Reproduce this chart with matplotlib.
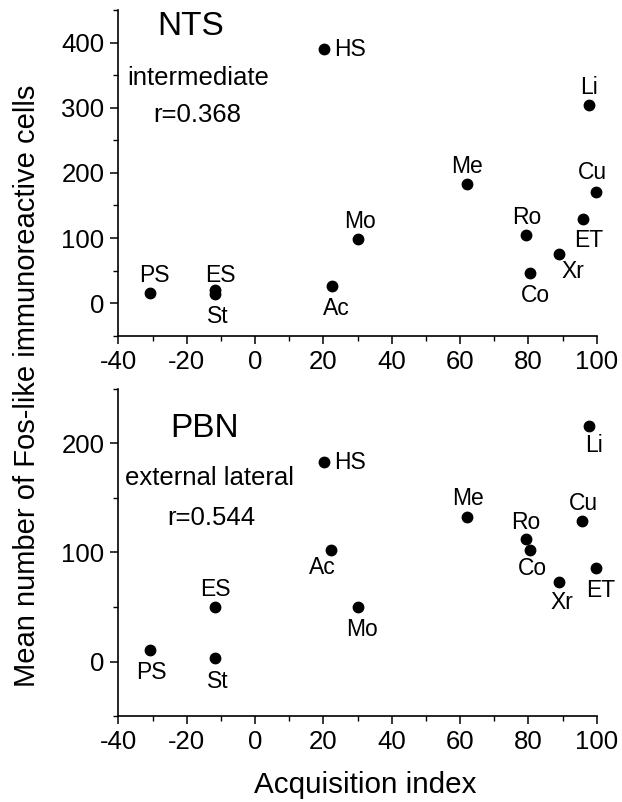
import matplotlib
matplotlib.use('Agg')
import matplotlib.pyplot as plt
from matplotlib.ticker import MultipleLocator

plt.rcParams['font.family'] = ['Liberation Sans', 'DejaVu Sans']
plt.rcParams['axes.unicode_minus'] = False

stimuli = ['PS', 'ES', 'St', 'HS', 'Ac', 'Mo', 'Me', 'Ro', 'Co', 'Xr', 'ET', 'Li', 'Cu']

# NTS (intermediate)
nts_x = [-30.8, -11.8, -11.8, 20.3, 22.5, 30.1, 62.0, 79.4, 80.6, 89.1, 96.0, 97.7, 99.8]
nts_y = [16, 20, 14, 390, 26, 99, 183, 104, 47, 76, 129, 304, 171]

# PBN (external lateral)
pbn_x = [-30.8, -11.8, -11.8, 20.2, 22.3, 30.1, 62.0, 79.3, 80.6, 89.1, 99.7, 97.7, 95.8]
pbn_y = [11, 50, 3, 183, 102, 50, 133, 112, 102, 73, 86, 216, 129]

x_ticks = [-40, -20, 0, 20, 40, 60, 80, 100]
nts_yticks = [0, 100, 200, 300, 400]
pbn_yticks = [0, 100, 200]

# label offsets in pixels (dx, dy)
nts_off = {'PS': (4, 17), 'ES': (6, 15), 'St': (3, -22), 'HS': (10, 0), 'Ac': (4, -22),
           'Mo': (2, 17), 'Me': (0, 17), 'Ro': (0, 18), 'Co': (5, -23), 'Xr': (13, -18),
           'ET': (6, -21), 'Li': (0, 18), 'Cu': (-4, 19)}
pbn_off = {'PS': (1, -23), 'ES': (1, 18), 'St': (3, -23), 'HS': (10, 0), 'Ac': (-9, -17),
           'Mo': (4, -22), 'Me': (1, 18), 'Ro': (0, 17), 'Co': (2, -18), 'Xr': (2, -21),
           'ET': (5, -23), 'Li': (5, -19), 'Cu': (1, 17)}

fig = plt.figure(figsize=(6.22, 8.02), dpi=100)
ax1 = fig.add_axes([0.1905, 0.5814, 0.7688, 0.4061])
ax2 = fig.add_axes([0.1905, 0.1072, 0.7688, 0.4078])


def style(ax, ylim, yticks):
    ax.set_xlim(-40, 100)
    ax.set_ylim(*ylim)
    ax.set_xticks(x_ticks)
    ax.set_yticks(yticks)
    ax.xaxis.set_minor_locator(MultipleLocator(10))
    ax.yaxis.set_minor_locator(MultipleLocator(50))
    for s in ['top', 'right']:
        ax.spines[s].set_visible(False)
    for s in ['left', 'bottom']:
        ax.spines[s].set_linewidth(1.2)
    ax.tick_params(which='major', direction='out', length=6, width=1.1, labelsize=18.5, pad=4)
    ax.tick_params(which='minor', direction='out', length=3.5, width=1.0)


def draw(ax, xs, ys, offs):
    ax.plot(xs, ys, 'o', color='black', ms=7.5, mec='black', clip_on=False)
    for name, x, y in zip(stimuli, xs, ys):
        dx, dy = offs[name]
        ha = 'left' if name == 'HS' else 'center'
        ax.annotate(name, (x, y), xytext=(dx, dy), textcoords='offset pixels',
                    ha=ha, va='center', fontsize=16.5, annotation_clip=False)


style(ax1, (-50, 450), nts_yticks)
draw(ax1, nts_x, nts_y, nts_off)
ax1.text(-28.7, 424, 'NTS', fontsize=24, ha='left', va='center')
ax1.text(-37.4, 346, 'intermediate', fontsize=18.5, ha='left', va='center')
ax1.text(-29.9, 289, 'r=0.368', fontsize=18.5, ha='left', va='center')

style(ax2, (-50, 250), pbn_yticks)
draw(ax2, pbn_x, pbn_y, pbn_off)
ax2.text(-24.9, 214, 'PBN', fontsize=24, ha='left', va='center')
ax2.text(-38.0, 168, 'external lateral', fontsize=18.5, ha='left', va='center')
ax2.text(-25.8, 132, 'r=0.544', fontsize=18.5, ha='left', va='center')

fig.text(0.588, 0.021, 'Acquisition index', fontsize=21.3, ha='center', va='center')
fig.text(0.043, 0.519, 'Mean number of Fos-like immunoreactive cells', fontsize=21,
         rotation=90, ha='center', va='center')

fig.savefig('out.png', dpi=100)
